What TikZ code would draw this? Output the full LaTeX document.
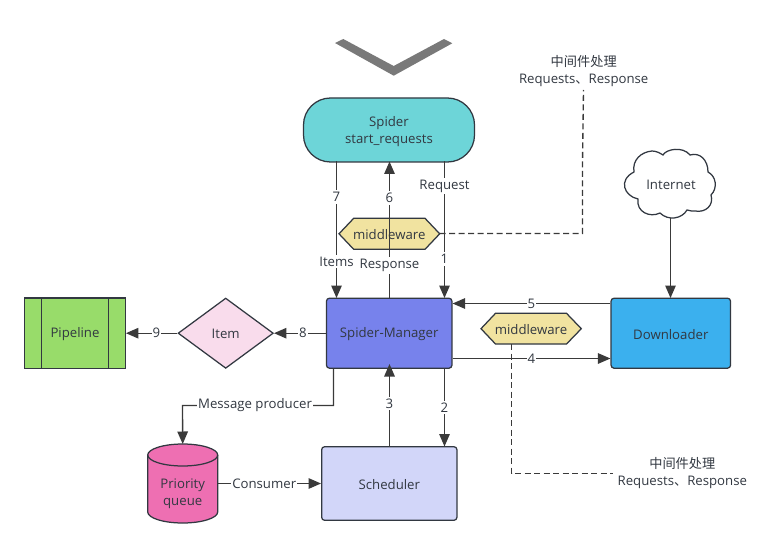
\documentclass[tikz,border=0pt]{standalone}
\usepackage{fontspec}
\setmainfont{Open Sans}
\newfontfamily\cjk{Noto Sans CJK SC}
\usetikzlibrary{arrows.meta,shapes.geometric}
\definecolor{ink}{HTML}{323841}
\definecolor{edge}{HTML}{3A3A3A}
\definecolor{hexfill}{HTML}{F1E3A0}
\definecolor{spiderfill}{HTML}{6DD5D8}
\definecolor{mgrfill}{HTML}{7782EC}
\definecolor{dlfill}{HTML}{3BB0EE}
\definecolor{schfill}{HTML}{D2D6F9}
\definecolor{pipefill}{HTML}{98DC6A}
\definecolor{itemfill}{HTML}{F9DCEC}
\definecolor{cylfill}{HTML}{EE6FB2}
\tikzset{
  x=1pt,y=-1pt,
  every node/.style={font=\fontsize{13.2}{16.5}\selectfont,text=ink,align=center,inner sep=0pt},
  boxed/.style={draw=ink,line width=1.25pt},
  conn/.style={draw=edge,line width=1.35pt,-{Triangle[length=12.5pt,width=10.5pt]}},
  dashline/.style={draw=edge,line width=1.35pt,dash pattern=on 6pt off 3.5pt},
  lab/.style={fill=white,inner xsep=1pt,inner ysep=2pt},
  hexa/.style={boxed,fill=hexfill,line join=miter},
  txt/.style={yshift=-1pt},
}
\begin{document}
\begin{tikzpicture}
\useasboundingbox (0,0) rectangle (778,548);
% chevron
\fill[fill=gray!95!black] (335,43) -- (343.3,39) -- (393.7,66) -- (444,39) -- (452.3,43.3) -- (393.7,75.7) -- cycle;
% shapes
\node[boxed,fill=spiderfill,minimum width=171pt,minimum height=64pt,rounded corners=27pt] (spider) at (389,130) {};
\node[yshift=-1.6pt] (spidert) at (spider.center) {Spider\\start\_requests};
\node[boxed,fill=mgrfill,minimum width=125.5pt,minimum height=70pt,rounded corners=3pt] (mgr) at (389.2,333.2) {};
\node[txt] (mgrt) at (mgr.center) {Spider-Manager};
\node[boxed,fill=dlfill,minimum width=119.5pt,minimum height=70pt,rounded corners=3pt] (dl) at (670.8,333.2) {};
\node[txt] (dlt) at (dl.center) {Downloader};
\node[boxed,fill=schfill,minimum width=135.3pt,minimum height=73.6pt,rounded corners=3pt] (sch) at (389.3,483.5) {};
\node[txt] (scht) at (sch.center) {Scheduler};
\node[boxed,fill=pipefill,minimum width=100.6pt,minimum height=70.3pt] (pipe) at (75,333.2) {};
\node[txt] (pipet) at (pipe.center) {Pipeline};
\draw[boxed] (41.7,298) -- (41.7,368.3) (108.3,298) -- (108.3,368.3);
\node[boxed,fill=itemfill,diamond,aspect=1.36,minimum width=95.3pt,minimum height=70.3pt,inner sep=0pt] (item) at (225.7,333.2) {};
\node[txt] (itemt) at (item.center) {Item};
% cylinder
\coordinate (cyltop) at (182.7,444);
\coordinate (cylright) at (217.7,483.5);
\draw[boxed,fill=cylfill] (147.7,455) .. controls (147.7,449) and (163.4,444) .. (182.7,444) .. controls (202,444) and (217.7,449) .. (217.7,455) -- (217.7,512) .. controls (217.7,518) and (202,523) .. (182.7,523) .. controls (163.4,523) and (147.7,518) .. (147.7,512) -- cycle;
\draw[boxed] (147.7,455) .. controls (147.7,461) and (163.4,466) .. (182.7,466) .. controls (202,466) and (217.7,461) .. (217.7,455);
\node[font=\fontsize{13.2}{17}\selectfont] (cyl) at (182.7,493.5) {Priority\\queue};
% cloud
\draw[boxed,fill=white] (634,172)
  .. controls (632,160) and (641,152) .. (652,151)
  .. controls (656,151) and (660,153) .. (663,155)
  .. controls (666,149) and (683,146) .. (690,155)
  .. controls (700,152) and (708,160) .. (708,172)
  .. controls (716,176) and (718,188) .. (711,195)
  .. controls (714,205) and (706,213) .. (695,211)
  .. controls (692,211) and (690,211) .. (687,210)
  .. controls (682,219) and (668,221) .. (660,213)
  .. controls (650,218) and (636,212) .. (638,199)
  .. controls (624,196) and (618,180) .. (634,172) -- cycle;
\node (net) at (671,184.5) {Internet};
\coordinate (netb) at (670.5,217.5);
% connectors
\coordinate (s7) at (336.5,161.5); \coordinate (m7) at (336.5,298);
\coordinate (s6) at (389.5,161.5);   \coordinate (m6) at (389.5,298);
\coordinate (s1) at (444.5,161.5); \coordinate (m1) at (444.5,298);
\draw[conn] (s7) -- (m7);
\draw[conn] (s1) -- (m1);
\draw[hexa] (339,233.8) -- (353.7,218.3) -- (425,218.3) -- (439.7,233.8) -- (425,249.3) -- (353.7,249.3) -- cycle;
\node (mw1) at (389.3,235) {middleware};
\draw[conn] (m6) -- (s6);
\node[lab] at (336.5,197) {7};
\node[lab] at (336.5,261.5) {Items};
\node[lab] at (389.5,198) {6};
\node[lab] at (389.5,265.5) {Response};
\node[lab] at (444.5,186) {Request};
\node[lab] at (444.5,259) {1};
\coordinate (d1) at (439.7,233.5);
\draw[dashline] (d1) -- (582.5,233.5) -- (582.5,164) -- (583.5,90);
\node (t1) at (583.7,71) {{\cjk 中间件处理}\\Requests{\cjk 、}Response};
\draw[hexa] (481,328.7) -- (495.5,313.3) -- (566.5,313.3) -- (581.3,328.7) -- (566.5,344) -- (495.5,344) -- cycle;
\node (mw2) at (531,330) {middleware};
\draw[dashline] (511.5,344) -- (511.5,473.5) -- (613,473.5);
\node (t2) at (682.3,472.8) {{\cjk 中间件处理}\\Requests{\cjk 、}Response};
\draw[conn] (netb) -- (670.5,298);
\draw[conn] (dl.west |- 0,303.5) -- node[lab] {5} (mgr.east |- 0,303.5);
\draw[conn] (mgr.east |- 0,358.5) -- node[lab] {4} (dl.west |- 0,358.5);
\draw[conn] (444.5,368.2) -- node[lab,pos=.5] {2} (444.5,446.5);
\draw[conn] (389.5,446.5) -- node[lab,pos=.52] {3} (389.5,364);
\draw[conn] (mgr.west) -- node[lab,pos=.44] {8} (item.east);
\draw[conn] (item.west) -- node[lab,pos=.41] {9} (pipe.east);
\draw[conn] (333.5,368.2) |- (182.5,405.5) -- (cyltop);
\node[lab] at (255,405.5) {Message producer};
\draw[conn] (cylright) -- node[lab,pos=.45] {Consumer} (sch.west |- cylright);
\end{tikzpicture}
\end{document}
